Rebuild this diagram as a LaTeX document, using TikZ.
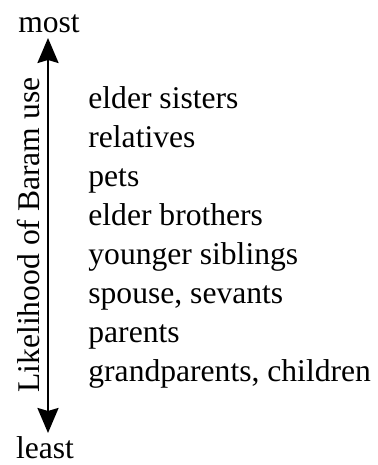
\documentclass[tikz,border=0pt]{standalone}
\usepackage{fontspec}
\setmainfont{Liberation Serif}
\usetikzlibrary{arrows.meta}
\begin{document}
\begin{tikzpicture}[x=0.5pt, y=0.5pt,
	every node/.style={font=\fontsize{15.8}{19}\selectfont, inner sep=0pt},
	kin/.style={anchor=base west},
	rankline/.style={<->, >={Stealth[length=12.5pt, width=10.5pt, inset=1.5pt]}, line width=1.2pt}]
		\useasboundingbox (0,0) rectangle (377,465);
		\node[anchor=base](most) at (49,432){most};
		\node[anchor=base](least) at (45,6){least};
		\coordinate(top) at (48,427);
		\coordinate(bottom) at (48,32);
		\draw [rankline] (top) -- (bottom);
		\node[rotate=90, anchor=base](axis) at (40,230){Likelihood of Baram use};
		\node[kin](sisters) at (88,356){elder sisters};
		\node[kin](relatives) at (88,317){relatives};
		\node[kin](pets) at (88,278){pets};
		\node[kin](brothers) at (88,239){elder brothers};
		\node[kin](siblings) at (88,200){younger siblings};
		\node[kin](spouse) at (88,161){spouse, sevants};
		\node[kin](parents) at (88,122){parents};
		\node[kin](grand) at (88,83){grandparents, children};
\end{tikzpicture}
\end{document}
